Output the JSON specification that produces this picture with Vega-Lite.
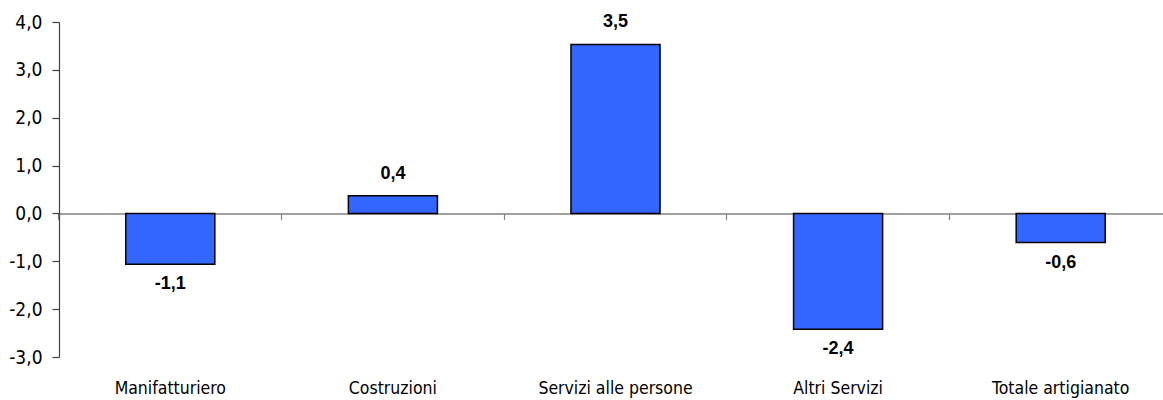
{
  "$schema": "https://vega.github.io/schema/vega-lite/v6.json",
  "autosize": {"type": "none"},
  "padding": {"left": 59, "top": 22, "right": 0, "bottom": 43},
  "width": 1113,
  "height": 335,
  "config": {
    "locale": {"number": {"decimal": ",", "thousands": ".", "grouping": [3], "currency": ["€", ""], "minus": "-"}},
    "view": {"stroke": null},
    "font": "DejaVu Sans Condensed, Liberation Sans"
  },
  "data": {
    "values": [
      {"settore": "Manifatturiero", "valore": -1.06},
      {"settore": "Costruzioni", "valore": 0.37},
      {"settore": "Servizi alle persone", "valore": 3.53},
      {"settore": "Altri Servizi", "valore": -2.42},
      {"settore": "Totale artigianato", "valore": -0.61}
    ]
  },
  "resolve": {"axis": {"x": "independent"}},
  "encoding": {
    "x": {"field": "settore", "type": "nominal", "sort": null, "scale": {"paddingInner": 0.6, "paddingOuter": 0.3}},
    "y": {"field": "valore", "type": "quantitative", "scale": {"domain": [-3, 4], "nice": false, "zero": false}}
  },
  "layer": [
    {
      "mark": {"type": "bar", "fill": "#3366FF", "stroke": "#000000", "strokeWidth": 1.5},
      "encoding": {
        "x": {"field": "settore", "type": "nominal", "sort": null,
          "axis": {"orient": "bottom", "title": null, "domain": false, "ticks": false, "tickSize": 0, "labelPadding": 22, "labelAngle": 0, "labelFont": "DejaVu Sans Condensed, Liberation Sans", "labelFontSize": 17.5, "labelColor": "#000000", "labelBaseline": "top"}},
        "y": {"field": "valore", "type": "quantitative",
          "axis": {"title": null, "values": [-3, -2, -1, 0, 1, 2, 3, 4], "format": ".1f", "grid": false, "domainColor": "#404040", "domainWidth": 1.2, "tickColor": "#404040", "tickWidth": 1.2, "tickSize": 7, "labelPadding": 10, "labelFont": "DejaVu Sans Condensed, Liberation Sans", "labelFontSize": 19, "labelColor": "#000000"}}
      }
    },
    {
      "transform": [{"filter": "datum.valore >= 0"}],
      "mark": {"type": "text", "font": "Liberation Sans", "fontWeight": "bold", "fontSize": 18, "baseline": "alphabetic", "dy": -17, "color": "#000000"},
      "encoding": {
        "x": {"field": "settore", "type": "nominal", "sort": null,
          "axis": {"orient": "bottom", "offset": -143.6, "title": null, "labels": false, "domain": true, "domainColor": "#808080", "domainWidth": 1.5, "ticks": true, "tickColor": "#808080", "tickWidth": 1.2, "tickSize": 6, "bandPosition": -0.75}},
        "text": {"field": "valore", "type": "quantitative", "format": ".1f"}
      }
    },
    {
      "transform": [{"filter": "datum.valore < 0"}],
      "mark": {"type": "text", "font": "Liberation Sans", "fontWeight": "bold", "fontSize": 18, "baseline": "top", "dy": 11, "color": "#000000"},
      "encoding": {
        "x": {"field": "settore", "type": "nominal", "sort": null, "axis": null},
        "text": {"field": "valore", "type": "quantitative", "format": ".1f"}
      }
    }
  ]
}
